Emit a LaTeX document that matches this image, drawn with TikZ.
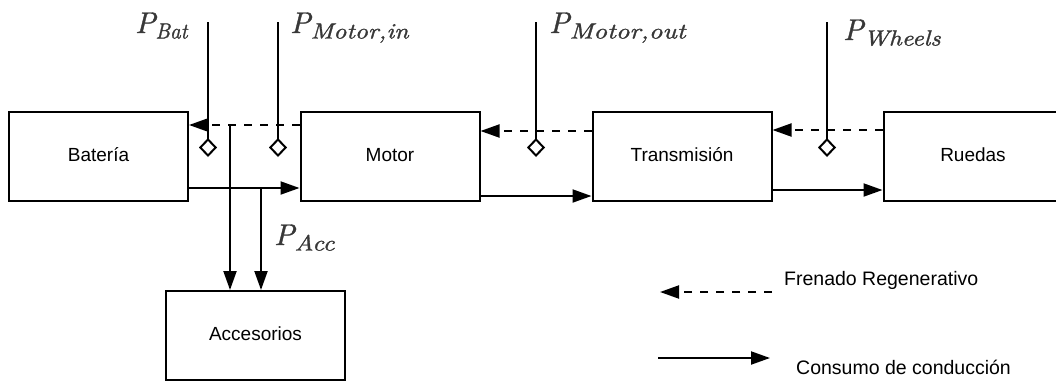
\documentclass[tikz,border=0pt]{standalone}
\usepackage{fontspec}
\newfontfamily\arialf{Liberation Sans}
\newfontfamily\plf{lmroman10-italic.otf}[FakeBold=1.2]
\usetikzlibrary{arrows.meta}
\newcommand{\plab}[2]{\plf P\raisebox{-5.5pt}{\fontsize{22}{22}\selectfont\resizebox{#2}{\height}{#1}}}
\begin{document}
\begin{tikzpicture}[x=1pt,y=-1pt,
  box/.style={draw, line width=2pt, minimum width=179pt, minimum height=89pt, inner sep=0pt,
    font=\arialf\fontsize{19}{19}\selectfont, text height=9pt, text depth=0pt},
  ln/.style={line width=2pt},
  flow/.style={ln, -{Triangle[length=19pt,width=13pt]}},
  regen/.style={ln, dash pattern=on 8pt off 8pt, -{Triangle[length=19pt,width=13pt]}},
  probe/.style={ln, -{Diamond[open,length=19pt,width=18pt]}},
  plabel/.style={anchor=base west, inner sep=0pt, text=black!78, font=\fontsize{30}{32}\selectfont},
  legtext/.style={anchor=base west, inner sep=0pt, font=\arialf\fontsize{19.5}{20}\selectfont}]
\useasboundingbox (0,0) rectangle (1056,381);

% blocks
\node[box] (bat) at (98.5,156.5) {Batería};
\node[box] (mot) at (390,156.5) {Motor};
\node[box] (tra) at (682,156.5) {Transmisión};
\node[box] (rue) at (973,156.5) {Ruedas};
\node[box] (acc) at (255.5,335.5) {Accesorios};

% regenerative braking (dashed)
\draw[regen] ([yshift=31.5pt]mot.west) -- ([yshift=31.5pt]bat.east);
\draw[regen] ([yshift=25.5pt]tra.west) -- ([yshift=25.5pt]mot.east);
\draw[regen] ([yshift=26.5pt]rue.west) -- ([yshift=26.5pt]tra.east);

% driving consumption (solid)
\draw[flow] ([yshift=-31.5pt]bat.east) -- ([yshift=-31.5pt]mot.west);
\draw[flow] ([yshift=-39.5pt]mot.east) -- ([yshift=-39.5pt]tra.west);
\draw[flow] ([yshift=-33.5pt]tra.east) -- ([yshift=-33.5pt]rue.west);

% accessories
\coordinate (j1) at (230,125);
\coordinate (j2) at (261,188);
\draw[flow] (j1) -- (j1 |- acc.north);
\draw[flow] (j2) -- (j2 |- acc.north);

% measurement probes
\coordinate (pa1) at (208,22);  \coordinate (pa2) at (208,157);
\coordinate (pb1) at (278,22);  \coordinate (pb2) at (278,157);
\coordinate (pc1) at (536,22);  \coordinate (pc2) at (536,157);
\coordinate (pd1) at (827,22);  \coordinate (pd2) at (827,157);
\draw[probe] (pa1) -- (pa2);
\draw[probe] (pb1) -- (pb2);
\draw[probe] (pc1) -- (pc2);
\draw[probe] (pd1) -- (pd2);

\node[plabel] (lbat) at (135,33) {\plab{Bat}{32pt}};
\node[plabel] (lmin) at (290,33) {\plab{Motor,in}{98pt}};
\node[plabel] (lmout) at (549,33) {\plab{Motor,out}{116pt}};
\node[plabel] (lwh) at (843,40) {\plab{Wheels}{77pt}};
\node[plabel] (lacc) at (274,245) {\plab{Acc}{40pt}};

% legend
\coordinate (lg1s) at (772,292); \coordinate (lg1e) at (660,292);
\coordinate (lg2s) at (658,358); \coordinate (lg2e) at (770,358);
\draw[regen] (lg1s) -- (lg1e);
\draw[flow] (lg2s) -- (lg2e);
\node[legtext] (lgt1) at (784,285) {Frenado Regenerativo};
\node[legtext] (lgt2) at (796,374) {Consumo de conducción};
\end{tikzpicture}
\end{document}
